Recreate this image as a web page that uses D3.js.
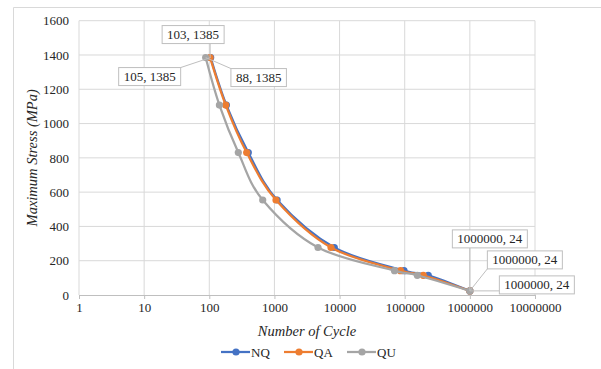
<!DOCTYPE html>
<html>
<head>
<meta charset="utf-8">
<script src="https://cdn.jsdelivr.net/npm/d3@7"></script>
<style>
  body { margin:0; background:#fff; }
  svg, svg text { font-family:"Liberation Serif","Times New Roman",serif !important; }
  svg text { fill:#262626; }
</style>
</head>
<body>
<script>
// series names and colours (Excel defaults)
const seriesNames = ["NQ", "QA", "QU"]
const seriesColors = ["#4472C4", "#ED7D31", "#A5A5A5"]

// stress levels shared by all three series (MPa)
const stressLevels = [1385, 1108, 831, 554, 277, 142, 115, 24]

// number of cycles
const nqCycles = [105, 183, 397, 1100, 8300, 97500, 230000, 1000000]
const qaCycles = [103, 179, 375, 1057, 7390, 86300, 193000, 1000000]
const quCycles = [88, 143, 279, 661, 4670, 69700, 156000, 1000000]

const xTicks = [1, 10, 100, 1000, 10000, 100000, 1000000, 10000000]
const yTicks = [0, 200, 400, 600, 800, 1000, 1200, 1400, 1600]

const width = 601
const height = 369
const plot = {left:79, right:535, top:20.7, bottom:295}
const serif = "'Liberation Serif', 'Times New Roman', serif"

const svg = d3.select("body").append("svg")
              .attr("width", width)
              .attr("height", height)
              .style("font-family", serif)

// outer chart border (only left and top visible)
svg.append("path")
   .attr("d", `M13.5,${height} V7.5 H${width}`)
   .attr("fill", "none")
   .attr("stroke", "#d9d9d9")

const x = d3.scaleLog().domain([1, 1e7]).range([plot.left, plot.right])
const y = d3.scaleLinear().domain([0, 1600]).range([plot.bottom, plot.top])

// gridlines
svg.append("g").selectAll("line")
   .data(yTicks.slice(1))
   .enter().append("line")
   .attr("x1", plot.left).attr("x2", plot.right)
   .attr("y1", d => y(d)).attr("y2", d => y(d))
   .attr("stroke", "#d9d9d9")

svg.append("g").selectAll("line")
   .data(xTicks)
   .enter().append("line")
   .attr("x1", d => x(d)).attr("x2", d => x(d))
   .attr("y1", plot.top).attr("y2", plot.bottom)
   .attr("stroke", "#d9d9d9")

// x axis
const xAxis = svg.append("g")
   .attr("transform", `translate(0,${plot.bottom})`)
   .call(d3.axisBottom(x).tickValues(xTicks).tickFormat(d3.format("d")).tickSize(4).tickPadding(4))
xAxis.attr("font-family", null).attr("font-size", null)
xAxis.select(".domain").attr("stroke", "#bfbfbf")
xAxis.selectAll(".tick line").attr("stroke", "#bfbfbf")
xAxis.selectAll("text").style("font-size", "13px").style("font-family", serif).attr("fill", "#262626")

// y axis (labels only)
const yAxis = svg.append("g")
   .attr("transform", `translate(${plot.left},0)`)
   .call(d3.axisLeft(y).tickValues(yTicks).tickFormat(d3.format("d")).tickSize(0).tickPadding(10))
yAxis.attr("font-family", null).attr("font-size", null)
yAxis.select(".domain").remove()
yAxis.selectAll("text").style("font-size", "13px").style("font-family", serif).attr("fill", "#262626")

// axis titles
svg.append("text")
   .attr("x", (plot.left + plot.right) / 2)
   .attr("y", 336)
   .attr("text-anchor", "middle")
   .style("font-size", "14.5px")
   .style("font-style", "italic")
   .text("Number of Cycle")

svg.append("text")
   .attr("transform", `translate(37,${(plot.top + plot.bottom) / 2}) rotate(-90)`)
   .attr("text-anchor", "middle")
   .style("font-size", "14.5px")
   .style("font-style", "italic")
   .text("Maximum Stress (MPa)")

// series
const allCycles = [nqCycles, qaCycles, quCycles]
const series = seriesNames.map((name, i) => ({
  name: name,
  color: seriesColors[i],
  points: allCycles[i].map((c, j) => ({c: c, s: stressLevels[j]}))
}))

const line = d3.line()
               .x(d => x(d.c))
               .y(d => y(d.s))
               .curve(d3.curveCardinal.tension(0))

series.forEach(s => {
  svg.append("path")
     .datum(s.points)
     .attr("d", line)
     .attr("fill", "none")
     .attr("stroke", s.color)
     .attr("stroke-width", 2.25)
     .attr("stroke-linejoin", "round")

  svg.append("g").selectAll("circle")
     .data(s.points)
     .enter().append("circle")
     .attr("cx", d => x(d.c))
     .attr("cy", d => y(d.s))
     .attr("r", 3.6)
     .attr("fill", s.color)
})

// data labels with leader lines: [series index, point index, dx, dy]
const labelSpots = [
  [0, 0, -61, 19],
  [1, 0, -17, -23],
  [2, 0, 53, 20],
  [2, 7, 20, -52],
  [1, 7, 55, -31],
  [0, 7, 67, -6]
]

const labelLayer = svg.append("g")
labelSpots.forEach(([si, pi, dx, dy]) => {
  const p = series[si].points[pi]
  const px = x(p.c), py = y(p.s)
  const cx = px + dx, cy = py + dy
  const g = labelLayer.append("g")
  const lead = g.append("line").attr("stroke", "#bfbfbf").attr("stroke-width", 1)
  const rect = g.append("rect").attr("fill", "#fff").attr("stroke", "#bfbfbf")
  const t = g.append("text")
     .attr("x", cx).attr("y", cy + 4.5)
     .attr("text-anchor", "middle")
     .style("font-size", "13px")
     .text(`${p.c}, ${p.s}`)
  const w = t.node().getComputedTextLength() + 10
  const h = 18
  const x0 = cx - w / 2, y0 = cy - h / 2
  rect.attr("x", x0).attr("y", y0).attr("width", w).attr("height", h)
  lead.attr("x1", px).attr("y1", py)
      .attr("x2", Math.max(x0, Math.min(px, x0 + w)))
      .attr("y2", Math.max(y0, Math.min(py, y0 + h)))
})

// legend
const legend = svg.append("g").attr("transform", "translate(221,352)")
const legendItem = legend.selectAll("g")
   .data(series)
   .enter().append("g")
   .attr("transform", (d, i) => `translate(${i * 63},0)`)
legendItem.append("line")
   .attr("x1", 0).attr("x2", 29)
   .attr("stroke", d => d.color).attr("stroke-width", 2.25)
legendItem.append("circle")
   .attr("cx", 15).attr("r", 3.6)
   .attr("fill", d => d.color)
legendItem.append("text")
   .attr("x", 30).attr("y", 4.5)
   .style("font-size", "13px")
   .text(d => d.name)
</script>
</body>
</html>
